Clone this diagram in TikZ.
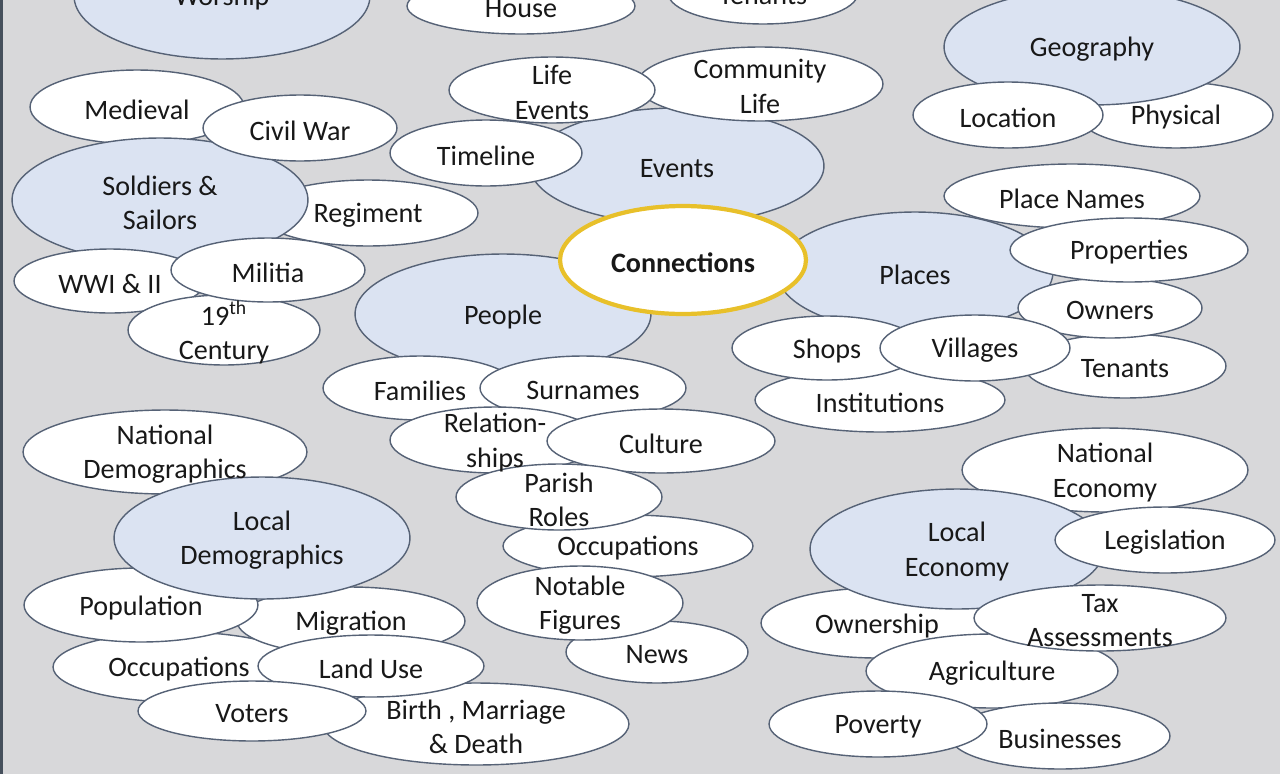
\documentclass[tikz,border=0pt]{standalone}
\usepackage{fontspec}
\setmainfont{Carlito}
\usetikzlibrary{shapes.geometric}

\definecolor{bggray}{RGB}{216,216,218}
\definecolor{framegray}{RGB}{70,80,92}
\definecolor{edgegray}{RGB}{86,98,118}
\definecolor{topicblue}{RGB}{219,227,242}
\definecolor{gold}{RGB}{232,192,42}
\definecolor{ink}{RGB}{24,24,24}

\tikzset{
  bub/.style 2 args={ellipse, draw=edgegray, line width=0.8pt, fill=white,
    inner sep=0pt, outer sep=0pt,
    minimum width=#1*0.04cm, minimum height=#2*0.04cm},
  topic/.style={fill=topicblue},
  hub/.style={draw=gold, line width=2.4pt},
  lbl/.style={text=ink, align=center, inner sep=0pt, yshift=-0.05cm,
    font=\fontsize{16}{19.5}\selectfont},
}

\begin{document}
\begin{tikzpicture}[x=0.02cm, y=-0.02cm]
    \useasboundingbox (0,0) rectangle (1280,774);
    \clip (0,0) rectangle (1280,774);
    \fill[bggray] (0,0) rectangle (1280,774);
    \fill[framegray] (0,0) rectangle (2.5,774);

    % top row, cut by the frame
    \node[bub={148}{63}, topic] (worship) at (222,-4) {};
    \node[bub={114}{28}] (house) at (521,6) {};
    \node[bub={95}{31}] (tenants0) at (763,-7) {};

    % geography
    \node[bub={97}{33}] (physical) at (1176,115) {};
    \node[bub={148}{58}, topic] (geography) at (1092,47) {};
    \node[bub={95}{33}] (location) at (1008,115) {};

    % events
    \node[bub={147}{58}, topic] (events) at (677,166) {};
    \node[bub={123}{37}] (community) at (760,84) {};
    \node[bub={103}{33}] (lifeevents) at (552,90) {};
    \node[bub={96}{33}] (timeline) at (486,153) {};

    % soldiers & sailors
    \node[bub={107}{37}] (medieval) at (137,107) {};
    \node[bub={110}{33}] (regiment) at (368,213) {};
    \node[bub={148}{62}, topic] (soldiers) at (160,200) {};
    \node[bub={97}{33}] (civilwar) at (300,128) {};
    \node[bub={96}{32}] (wwi) at (110,281) {};
    \node[bub={96}{35}] (century) at (224,330) {};
    \node[bub={97}{32}] (militia) at (268,270) {};

    % people
    \node[bub={148}{60}, topic] (people) at (503,314) {};
    \node[bub={97}{32}] (families) at (420,388) {};
    \node[bub={103}{32}] (surnames) at (583,388) {};
    \node[bub={105}{33}] (relations) at (495,440) {};
    \node[bub={114}{32}] (culture) at (661,441) {};
    \node[bub={125}{31}] (occupationsP) at (628,546) {};
    \node[bub={103}{33}] (parish) at (559,497) {};
    \node[bub={91}{31}] (news) at (657,652) {};
    \node[bub={103}{37}] (notable) at (580,603) {};

    % places
    \node[bub={138}{60}, topic] (places) at (915,272) {};
    \node[bub={128}{32}] (placenames) at (1072,196) {};
    \node[bub={101}{32}] (tenants) at (1125,366) {};
    \node[bub={92}{30}] (owners) at (1110,308) {};
    \node[bub={119}{32}] (properties) at (1129,250) {};
    \node[bub={125}{32}] (institutions) at (880,400) {};
    \node[bub={95}{32}] (shops) at (827,348) {};
    \node[bub={95}{33}] (villages) at (975,348) {};

    \node[bub={123}{54}, hub] (connections) at (683,260) {};

    % local demographics
    \node[bub={142}{42}] (natdemo) at (165,452) {};
    \node[bub={126}{35}] (occupationsL) at (179,667) {};
    \node[bub={114}{34}] (migration) at (351,621) {};
    \node[bub={117}{37}] (population) at (141,605) {};
    \node[bub={148}{61}, topic] (localdemo) at (262,538) {};
    \node[bub={153}{41}] (bmd) at (476,724) {};
    \node[bub={113}{31}] (landuse) at (371,666) {};
    \node[bub={114}{30}] (voters) at (252,711) {};

    % local economy
    \node[bub={143}{42}] (nateco) at (1105,470) {};
    \node[bub={116}{35}] (ownership) at (877,623) {};
    \node[bub={147}{60}, topic] (localeco) at (957,549) {};
    \node[bub={110}{33}] (legislation) at (1165,540) {};
    \node[bub={126}{37}] (agriculture) at (992,671) {};
    \node[bub={126}{33}] (tax) at (1100,618) {};
    \node[bub={110}{33}] (businesses) at (1060,736) {};
    \node[bub={109}{33}] (poverty) at (878,724) {};

    % texts go over every bubble
    \node[lbl] (t-worship) at (worship) {Worship};
    \node[lbl] (t-house) at (house) {House};
    \node[lbl] (t-tenants0) at (tenants0) {Tenants};
    \node[lbl] (t-geography) at (geography) {Geography};
    \node[lbl] (t-location) at (location) {Location};
    \node[lbl] (t-physical) at (physical) {Physical};
    \node[lbl] (t-events) at (events) {Events};
    \node[lbl] (t-community) at (community) {Community\\Life};
    \node[lbl] (t-lifeevents) at (lifeevents) {Life\\Events};
    \node[lbl] (t-timeline) at (timeline) {Timeline};
    \node[lbl] (t-medieval) at (medieval) {Medieval};
    \node[lbl] (t-civilwar) at (civilwar) {Civil War};
    \node[lbl] (t-soldiers) at (soldiers) {Soldiers \&\\Sailors};
    \node[lbl] (t-regiment) at (regiment) {Regiment};
    \node[lbl] (t-wwi) at (wwi) {WWI \& II};
    \node[lbl] (t-militia) at (militia) {Militia};
    \node[lbl] (t-century) at (century) {19\textsuperscript{th}\\Century};
    \node[lbl] (t-people) at (people) {People};
    \node[lbl] (t-families) at (families) {Families};
    \node[lbl] (t-surnames) at (surnames) {Surnames};
    \node[lbl] (t-relations) at (relations) {Relation-\\ships};
    \node[lbl] (t-culture) at (culture) {Culture};
    \node[lbl] (t-parish) at (parish) {Parish\\Roles};
    \node[lbl] (t-occupationsP) at (occupationsP) {Occupations};
    \node[lbl] (t-notable) at (notable) {Notable\\Figures};
    \node[lbl] (t-news) at (news) {News};
    \node[lbl, font=\fontsize{16}{19.5}\selectfont\bfseries] (t-connections) at (connections) {Connections};
    \node[lbl] (t-places) at (places) {Places};
    \node[lbl] (t-placenames) at (placenames) {Place Names};
    \node[lbl] (t-properties) at (properties) {Properties};
    \node[lbl] (t-owners) at (owners) {Owners};
    \node[lbl] (t-tenants) at (tenants) {Tenants};
    \node[lbl] (t-shops) at (shops) {Shops};
    \node[lbl] (t-villages) at (villages) {Villages};
    \node[lbl] (t-institutions) at (institutions) {Institutions};
    \node[lbl] (t-natdemo) at (natdemo) {National\\Demographics};
    \node[lbl] (t-localdemo) at (localdemo) {Local\\Demographics};
    \node[lbl] (t-population) at (population) {Population};
    \node[lbl] (t-migration) at (migration) {Migration};
    \node[lbl] (t-occupationsL) at (occupationsL) {Occupations};
    \node[lbl] (t-landuse) at (landuse) {Land Use};
    \node[lbl] (t-voters) at (voters) {Voters};
    \node[lbl] (t-bmd) at (bmd) {Birth , Marriage\\\& Death};
    \node[lbl] (t-nateco) at (nateco) {National\\Economy};
    \node[lbl] (t-localeco) at (localeco) {Local\\Economy};
    \node[lbl] (t-legislation) at (legislation) {Legislation};
    \node[lbl] (t-ownership) at (ownership) {Ownership};
    \node[lbl] (t-tax) at (tax) {Tax\\Assessments};
    \node[lbl] (t-agriculture) at (agriculture) {Agriculture};
    \node[lbl] (t-poverty) at (poverty) {Poverty};
    \node[lbl] (t-businesses) at (businesses) {Businesses};
\end{tikzpicture}
\end{document}
